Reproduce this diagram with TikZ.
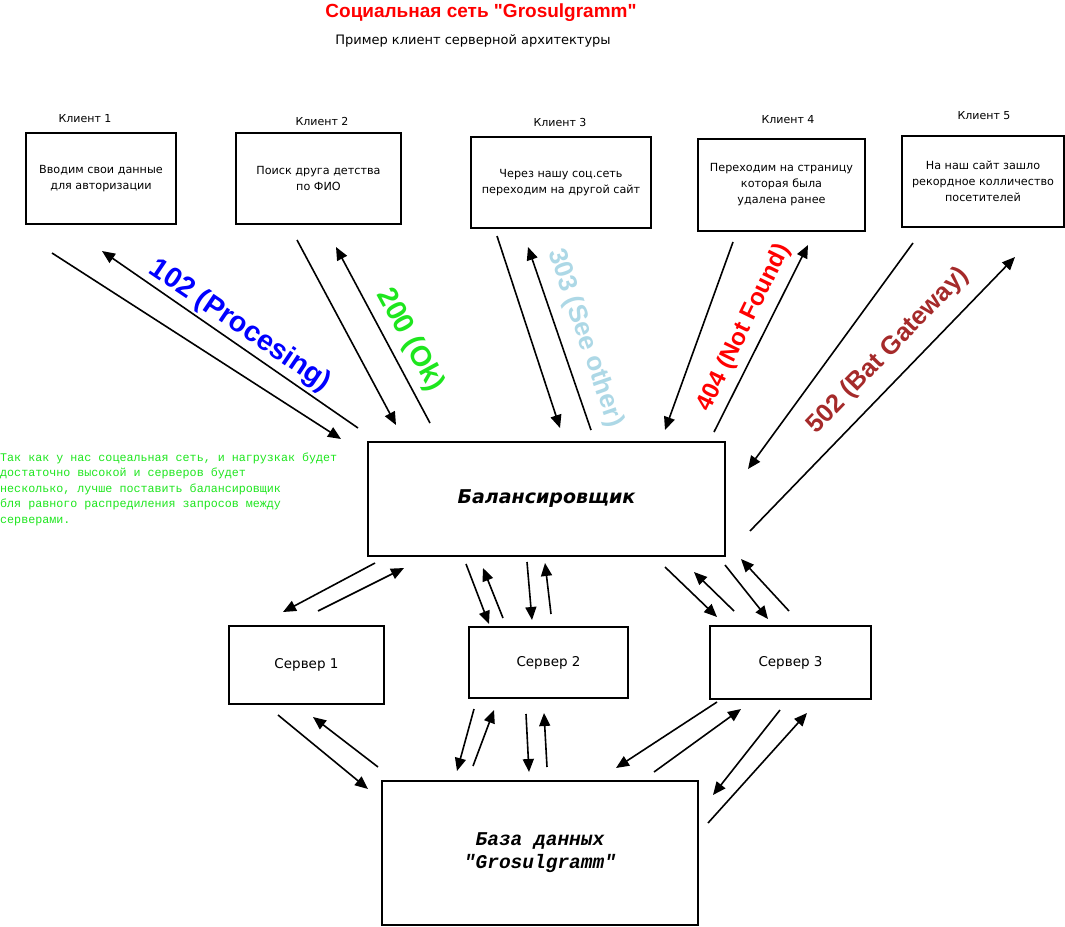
\documentclass[tikz,border=0pt]{standalone}
\usepackage{fontspec}
\setmainfont{DejaVu Sans}
\newfontfamily\arialfont{Liberation Sans}
\newfontfamily\cour{Liberation Mono}
\usetikzlibrary{arrows.meta}
\definecolor{okgreen}{HTML}{1EE61E}
\definecolor{seeblue}{HTML}{ADD8E6}
\definecolor{badbrown}{HTML}{A52A2A}
\begin{document}
\begin{tikzpicture}[x=1pt,y=-1pt,
  box/.style={draw, line width=1.8pt, inner sep=0pt, align=center, font=\fontsize{11.2}{16}\selectfont},
  srv/.style={box, font=\fontsize{13.5}{16}\selectfont},
  lbl/.style={font=\fontsize{11}{13}\selectfont, inner sep=0pt},
  arr/.style={line width=1.6pt, -{Triangle[length=13pt,width=11pt]}},
  code/.style={font=\arialfont\bfseries\fontsize{24}{24}\selectfont, inner sep=0pt}
]
\useasboundingbox (0,0) rectangle (1065,926);
\fill[white] (0,0) rectangle (1065,926);

% titles
\node[font=\arialfont\bfseries\fontsize{19}{22}\selectfont, text=red] (title) at (481,13) {Социальная сеть "Grosulgramm"};
\node[font=\fontsize{13}{16}\selectfont] (sub) at (473,41) {Пример клиент серверной архитектуры};

% client labels
\node[lbl] (l1) at (85,119) {Клиент 1};
\node[lbl] (l2) at (322,121) {Клиент 2};
\node[lbl] (l3) at (560,122) {Клиент 3};
\node[lbl] (l4) at (788,120) {Клиент 4};
\node[lbl] (l5) at (984,116) {Клиент 5};

% client boxes
\node[box, minimum width=150pt, minimum height=91pt] (c1) at (101,178.5) {Вводим свои данные\\для авторизации};
\node[box, minimum width=165pt, minimum height=91pt] (c2) at (318.5,178.5) {Поиск друга детства\\по ФИО};
\node[box, minimum width=180pt, minimum height=91pt] (c3) at (561,182.5) {Через нашу соц.сеть\\переходим на другой сайт};
\node[box, minimum width=167pt, minimum height=92pt] (c4) at (781.5,185) {Переходим на страницу\\которая была\\удалена ранее};
\node[box, minimum width=162pt, minimum height=91pt] (c5) at (983,181.5) {На наш сайт зашло\\рекордное колличество\\посетителей};

% balancer, servers, database
\node[box, minimum width=357pt, minimum height=114pt, font=\bfseries\itshape\fontsize{19}{22}\selectfont] (bal) at (546.5,499) {Балансировщик};
\node[srv, minimum width=155pt, minimum height=78pt] (s1) at (306.5,665) {\raisebox{4pt}{Сервер 1}};
\node[srv, minimum width=159pt, minimum height=71pt] (s2) at (548.5,662.5) {Сервер 2};
\node[srv, minimum width=161pt, minimum height=73pt] (s3) at (790.5,662.5) {Сервер 3};
\node[box, minimum width=316pt, minimum height=144pt, font=\cour\bfseries\itshape\fontsize{19.5}{23}\selectfont] (db) at (540,853) {База данных\\"Grosulgramm"};

% note
\node[anchor=west, align=left, inner sep=0pt, text=okgreen, font=\cour\fontsize{11.7}{15.5}\selectfont] (note) at (0,489) {Так как у нас соцеальная сеть, и нагрузкак будет\\достаточно высокой и серверов будет\\несколько, лучше поставить балансировщик\\бля равного распредиления запросов между\\серверами.};

% status code labels
\node[code, text=blue, rotate=-34, font=\arialfont\bfseries\fontsize{28.5}{28}\selectfont] (t102) at (240,326) {102 (Procesing)};
\node[code, text=okgreen, rotate=-61.4, font=\arialfont\bfseries\fontsize{28.5}{28}\selectfont] (t200) at (410,340) {200 (Ok)};
\node[code, text=seeblue, rotate=-71, font=\arialfont\bfseries\fontsize{26}{26}\selectfont] (t303) at (585,338) {303 (See other)};
\node[code, text=red, rotate=64] (t404) at (744,328) {404 (Not Found)};
\node[code, text=badbrown, rotate=46, font=\arialfont\bfseries\fontsize{25.5}{26}\selectfont] (t502) at (888,351) {502 (Bat Gateway)};

% connector end points: clients <-> balancer
\coordinate (a1s) at (52,253);   \coordinate (a1e) at (341,439);
\coordinate (a2s) at (358,428);  \coordinate (a2e) at (102,251);
\coordinate (a3s) at (297,240);  \coordinate (a3e) at (396,425);
\coordinate (a4s) at (430,423);  \coordinate (a4e) at (336,247);
\coordinate (a5s) at (497,236);  \coordinate (a5e) at (560,428);
\coordinate (a6s) at (591,430);  \coordinate (a6e) at (528,247);
\coordinate (a7s) at (733,242);  \coordinate (a7e) at (665,430);
\coordinate (a8s) at (714,432);  \coordinate (a8e) at (808,245);
\coordinate (a9s) at (913,243);  \coordinate (a9e) at (748,469);
\coordinate (a10s) at (750,531); \coordinate (a10e) at (1015,257);
% balancer <-> servers
\coordinate (b1s) at (375,563);  \coordinate (b1e) at (283,612);
\coordinate (b2s) at (318,611);  \coordinate (b2e) at (404,568);
\coordinate (b3s) at (466,564);  \coordinate (b3e) at (489,624);
\coordinate (b4s) at (503,618);  \coordinate (b4e) at (483,568);
\coordinate (b5s) at (527,562);  \coordinate (b5e) at (532,620);
\coordinate (b6s) at (551,614);  \coordinate (b6e) at (545,563);
\coordinate (b7s) at (665,567);  \coordinate (b7e) at (717,617);
\coordinate (b8s) at (734,611);  \coordinate (b8e) at (694,572);
\coordinate (b9s) at (725,565);  \coordinate (b9e) at (768,619);
\coordinate (b10s) at (789,611); \coordinate (b10e) at (741,559);
% servers <-> database
\coordinate (d1s) at (278,715);  \coordinate (d1e) at (368,789);
\coordinate (d2s) at (378,767);  \coordinate (d2e) at (313,717);
\coordinate (d3s) at (474,709);  \coordinate (d3e) at (457,771);
\coordinate (d4s) at (473,766);  \coordinate (d4e) at (494,710);
\coordinate (d5s) at (526,714);  \coordinate (d5e) at (529,772);
\coordinate (d6s) at (547,767);  \coordinate (d6e) at (544,713);
\coordinate (d7s) at (717,702);  \coordinate (d7e) at (616,768);
\coordinate (d8s) at (654,772);  \coordinate (d8e) at (741,709);
\coordinate (d9s) at (780,710);  \coordinate (d9e) at (713,795);
\coordinate (d10s) at (708,823); \coordinate (d10e) at (807,713);

\foreach \p in {a1,a2,a3,a4,a5,a6,a7,a8,a9,a10,b1,b2,b3,b4,b5,b6,b7,b8,b9,b10,d1,d2,d3,d4,d5,d6,d7,d8,d9,d10}
  \draw[arr] (\p s) -- (\p e);
\end{tikzpicture}
\end{document}
